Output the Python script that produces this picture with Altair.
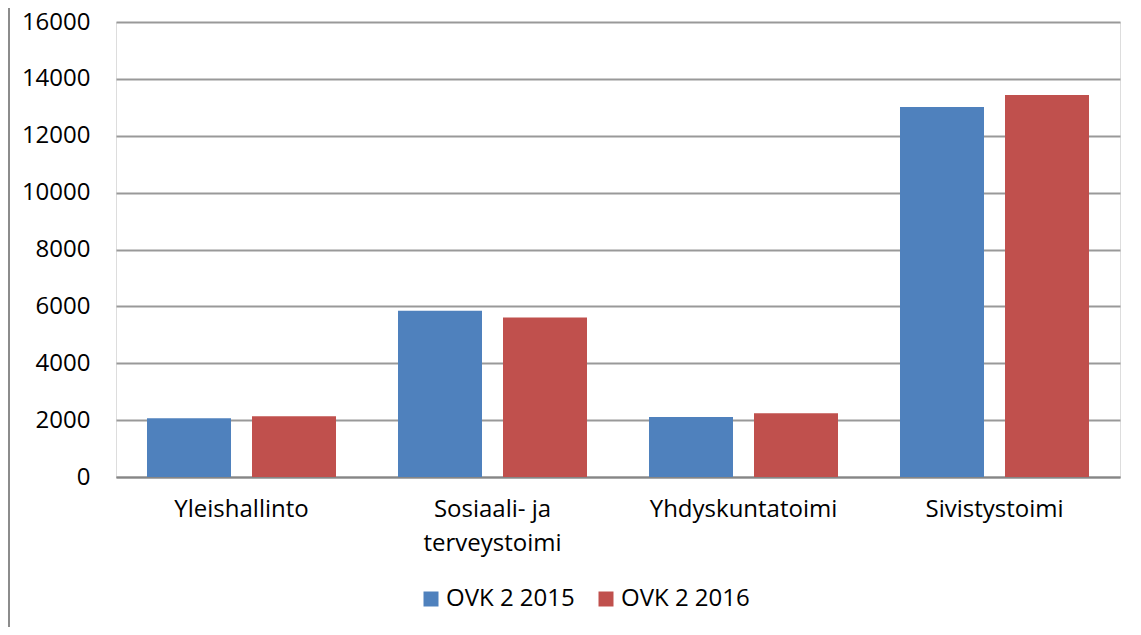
import altair as alt
import pandas as pd

categories = ["Yleishallinto", "Sosiaali- ja terveystoimi", "Yhdyskuntatoimi", "Sivistystoimi"]
series = ["OVK 2 2015", "OVK 2 2016"]
values_2015 = [2070, 5850, 2110, 13010]
values_2016 = [2140, 5610, 2240, 13430]
colors = ["#4F81BD", "#C0504D"]

rows = []
for c, a, b in zip(categories, values_2015, values_2016):
    rows.append({"kategoria": c, "sarja": series[0], "arvo": a})
    rows.append({"kategoria": c, "sarja": series[1], "arvo": b})
df = pd.DataFrame(rows)

FONT = "Open Sans"
FS = 24

bars = alt.Chart(df).mark_bar().encode(
    x=alt.X("kategoria:N", sort=categories, title=None,
            scale=alt.Scale(paddingInner=0.247, paddingOuter=0.1235),
            axis=alt.Axis(labelAngle=0, ticks=False, domain=True, domainColor="#868686",
                          domainWidth=2, labelFontSize=FS, labelFont=FONT, labelColor="#000000",
                          labelPadding=20, labelLineHeight=34, labelBaseline="top", labelLimit=400,
                          labelExpr="datum.label == 'Sosiaali- ja terveystoimi' ? ['Sosiaali- ja', 'terveystoimi'] : datum.label")),
    xOffset=alt.XOffset("sarja:N", sort=series,
                        scale=alt.Scale(paddingInner=0.2, paddingOuter=0)),
    y=alt.Y("arvo:Q", title=None,
            scale=alt.Scale(domain=[0, 16000]),
            axis=alt.Axis(values=list(range(0, 16001, 2000)), format="d", ticks=False, domain=False,
                          gridColor="#999999", gridWidth=2, labelFontSize=FS, labelFont=FONT,
                          labelColor="#000000", labelPadding=26)),
    color=alt.Color("sarja:N", sort=series, title=None,
                    scale=alt.Scale(domain=series, range=colors),
                    legend=alt.Legend(orient="none", legendX=303, legendY=565, direction="horizontal",
                                      symbolType="square", symbolSize=225, symbolStrokeWidth=0,
                                      labelFontSize=FS, labelFont=FONT, labelColor="#000000",
                                      columnPadding=19, labelOffset=3)),
)

frame = alt.Chart(pd.DataFrame({"k": [0]})).mark_rule(color="#8c8c8c", strokeWidth=2).encode(
    x=alt.value(-107), y=alt.value(-30), y2=alt.value(700)
)

chart = alt.layer(frame, bars).properties(
    width=1004, height=455,
    autosize=alt.AutoSizeParams(type="none"),
    padding={"left": 108, "top": 14, "right": 5, "bottom": 150},
).configure_view(stroke=None).configure(background="#ffffff")

chart.save("out.html", embed_options={"renderer": "svg", "actions": False})
